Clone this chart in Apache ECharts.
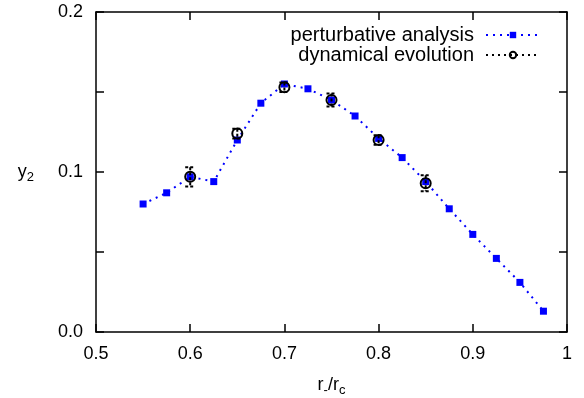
<!DOCTYPE html>
<html>
<head>
<meta charset="utf-8">
<script src="https://cdn.jsdelivr.net/npm/echarts@6/dist/echarts.min.js"></script>
<style>
  html, body { margin: 0; padding: 0; background: #fff; }
  #main { width: 584px; height: 398px; }
</style>
</head>
<body>
<div id="main"></div>
<script>
// perturbative analysis
const pertX = [0.55, 0.575, 0.6, 0.625, 0.65, 0.675, 0.7, 0.725, 0.75, 0.775, 0.8, 0.825, 0.85, 0.875, 0.9, 0.925, 0.95, 0.975]
const pertY = [0.080, 0.087, 0.097, 0.094, 0.120, 0.143, 0.155, 0.152, 0.145, 0.135, 0.121, 0.109, 0.094, 0.077, 0.061, 0.046, 0.031, 0.013]
// dynamical evolution (with errors)
const dynX = [0.6, 0.65, 0.7, 0.75, 0.8, 0.85]
const dynY = [0.097, 0.124, 0.153, 0.145, 0.120, 0.093]
const dynErr = [0.006, 0.003, 0.003, 0.004, 0.003, 0.005]

const xTicks = [0.5, 0.6, 0.7, 0.8, 0.9, 1]
const yTicks = [0, 0.1, 0.2]

const font = 'Liberation Sans, Arial, Helvetica, sans-serif'
const chart = echarts.init(document.getElementById('main'))

const pertData = pertX.map((x, i) => [x, pertY[i]])
const dynData = dynX.map((x, i) => [x, dynY[i], dynErr[i]])

const axisCommon = {
  axisLine: { show: true, onZero: false, lineStyle: { color: '#000', width: 1.5 } },
  axisTick: { show: true, inside: true, length: 8, lineStyle: { color: '#000', width: 1.5 } },
  splitLine: { show: false }
}
const titleRich = {
  a: { fontSize: 18, fontFamily: font, color: '#000' },
  s: { fontSize: 13, fontFamily: font, color: '#000', padding: [10, 0, 0, 0] }
}

chart.setOption({
  animation: false,
  textStyle: { fontFamily: font },
  grid: { left: 96, right: 17, top: 12, bottom: 66, containLabel: false, outerBoundsMode: 'none' },
  legend: {
    orient: 'vertical',
    right: 38,
    top: 20,
    align: 'right',
    itemGap: 0,
    itemWidth: 54,
    itemHeight: 8,
    textStyle: { fontSize: 20, color: '#000', fontFamily: font, padding: [0, 7, 0, 0] },
    data: [
      { name: 'perturbative analysis', itemStyle: { borderWidth: 0 } },
      { name: 'dynamical evolution',
        lineStyle: { color: '#000', type: [2, 4], width: 2, opacity: 1 } }
    ]
  },
  xAxis: [
    Object.assign({
      type: 'value', min: 0.5, max: 1, interval: 0.1, position: 'bottom',
      name: '{a|r}{s|-}{a|/r}{s|c}', nameLocation: 'middle', nameGap: 42,
      nameTextStyle: { rich: titleRich },
      axisLabel: { fontSize: 18, color: '#000', margin: 13, formatter: v => xTicks.includes(+v.toFixed(2)) ? (v === 1 ? '1' : v.toFixed(1)) : '' }
    }, axisCommon),
    Object.assign({ type: 'value', min: 0.5, max: 1, interval: 0.1, position: 'top', axisLabel: { show: false } }, axisCommon)
  ],
  yAxis: [
    Object.assign({
      type: 'value', min: 0, max: 0.2, interval: 0.05, position: 'left',
      name: '{a|y}{s|2}', nameLocation: 'middle', nameGap: 62, nameRotate: 0,
      nameTextStyle: { rich: titleRich },
      axisLabel: { fontSize: 18, color: '#000', margin: 13, formatter: v => yTicks.some(t => Math.abs(t - v) < 1e-9) ? v.toFixed(1) : '' }
    }, axisCommon),
    Object.assign({ type: 'value', min: 0, max: 0.2, interval: 0.05, position: 'right', axisLabel: { show: false } }, axisCommon)
  ],
  series: [
    {
      name: 'perturbative analysis',
      type: 'line',
      data: pertData,
      symbol: 'rect',
      symbolSize: 7,
      itemStyle: { color: '#0000ff' },
      lineStyle: { color: '#0000ff', width: 2, type: [2, 5] },
      z: 3
    },
    {
      // error bars (drawn through the library's coordinate system)
      type: 'custom',
      data: dynData,
      renderItem: (params, api) => {
        const x = api.value(0), y = api.value(1), e = api.value(2)
        const top = api.coord([x, y + e])
        const bot = api.coord([x, y - e])
        const w = 5
        const st = { stroke: '#000', lineWidth: 2, lineDash: [3, 2] }
        return {
          type: 'group',
          children: [
            { type: 'line', shape: { x1: top[0], y1: top[1], x2: bot[0], y2: bot[1] }, style: st },
            { type: 'line', shape: { x1: top[0] - w, y1: top[1], x2: top[0] + w, y2: top[1] }, style: st },
            { type: 'line', shape: { x1: bot[0] - w, y1: bot[1], x2: bot[0] + w, y2: bot[1] }, style: st }
          ]
        }
      },
      z: 4
    },
    {
      name: 'dynamical evolution',
      type: 'line',
      data: dynData.map(d => [d[0], d[1]]),
      symbol: 'circle',
      symbolSize: 10,
      itemStyle: { color: 'rgba(0,0,0,0)', borderColor: '#000', borderWidth: 2 },
      lineStyle: { width: 0, opacity: 0 },
      z: 5
    }
  ]
})
</script>
</body>
</html>
